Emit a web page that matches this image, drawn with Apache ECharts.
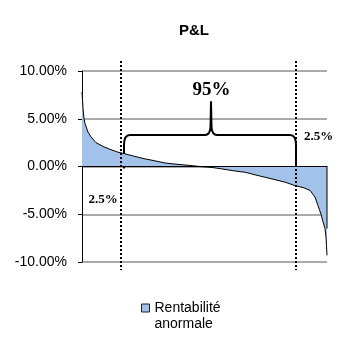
<!DOCTYPE html>
<html>
<head>
<meta charset="utf-8">
<script src="https://cdn.jsdelivr.net/npm/echarts@6/dist/echarts.min.js"></script>
<style>
  html, body { margin: 0; padding: 0; background: #fff; }
  #chart { width: 354px; height: 354px; }
</style>
</head>
<body>
<div id="chart"></div>
<script>
// observations sorted from best to worst (rank) and their abnormal return in %
const rank = [0, 1, 2, 3, 6, 9, 14, 21, 28, 36, 43, 53, 63, 68, 83, 93, 105, 118, 130, 141,
              155, 163, 176, 190, 203, 213, 221, 228, 233, 236, 239, 241, 243, 244, 244.5, 245];
const returns = [7.8, 6.1, 5.0, 4.5, 3.6, 3.1, 2.5, 2.1, 1.8, 1.5, 1.33, 1.05, 0.8, 0.7, 0.37, 0.25, 0.14, 0.0, -0.1, -0.27,
                 -0.5, -0.6, -0.95, -1.3, -1.64, -2.0, -2.2, -2.5, -3.2, -4.1, -5.0, -5.8, -6.5, -7.4, -8.3, -9.3];

const seriesName = 'Rentabilité\nanormale';
const cutLow = 39;    // 2.5% quantile (rank)
const cutHigh = 214;  // 97.5% quantile (rank)

const fill = '#a3c2ea';
const sans = '"Liberation Sans", Arial, sans-serif';
const serif = '"Liberation Serif", "Times New Roman", serif';

const chart = echarts.init(document.getElementById('chart'), null, { renderer: 'canvas' });

chart.setOption({
  animation: false,
  title: {
    text: 'P&L',
    left: 194,
    top: 23,
    padding: 0,
    textAlign: 'center',
    textStyle: { fontFamily: sans, fontSize: 15, fontWeight: 'bold', color: '#000' }
  },
  legend: {
    left: 141,
    top: 300,
    padding: 0,
    itemWidth: 8,
    itemHeight: 24,
    // square sits at the top of a taller box so it lines up with the first text line
    icon: 'path://M0,0h8v8h-8z M0,24 L0,24',
    itemStyle: { borderColor: '#222', borderWidth: 1 },
    textStyle: { fontFamily: sans, fontSize: 14, color: '#000', lineHeight: 16 },
    data: [seriesName]
  },
  grid: { left: 82, right: 27, top: 71, bottom: 92 },
  xAxis: {
    type: 'value',
    min: 0,
    max: 245,
    z: 5,
    axisLine: { show: true, onZero: true, lineStyle: { color: '#000', width: 1 } },
    axisTick: { show: false },
    axisLabel: { show: false },
    splitLine: { show: false }
  },
  yAxis: {
    type: 'value',
    min: -10,
    max: 10,
    interval: 5,
    axisLine: { show: true, lineStyle: { color: '#000', width: 1 } },
    axisTick: { show: true, inside: false, length: 4, lineStyle: { color: '#000' } },
    axisLabel: {
      margin: 15,
      fontFamily: sans,
      fontSize: 14,
      color: '#000',
      formatter: v => v.toFixed(2) + '%'
    },
    splitLine: { show: true, lineStyle: { color: '#8e8e8e', width: 1.5 } }
  },
  series: [{
    name: seriesName,
    type: 'line',
    data: rank.map((r, i) => [r, returns[i]]),
    showSymbol: false,
    symbol: 'none',
    itemStyle: { color: fill },
    lineStyle: { color: '#000', width: 1 },
    areaStyle: { color: fill, opacity: 1, origin: 0 },
    z: 2
  }]
});

// annotations placed from data coordinates
const px = (x, y) => chart.convertToPixel({ gridIndex: 0 }, [x, y]);
const lineTop = px(0, 10)[1] - 10;
const lineBottom = px(0, -10)[1] + 8;
const xl = px(cutLow, 0)[0];
const xh = px(cutHigh, 0)[0];

const bl = px(42, 0)[0], br = px(cutHigh, 0)[0];
const yb = px(0, 0)[1] + 2;
const yh = px(0, 3.3)[1];
const yPeak = px(0, 6.8)[1];
const xm = px(129, 0)[0];
const rad = 6;
const braceStyle = { fill: null, stroke: '#000', lineWidth: 2 };
const seg = (x1, y1, x2, y2) => ({ type: 'line', shape: { x1, y1, x2, y2 }, style: braceStyle });
const curve = (x1, y1, cx, cy, x2, y2) =>
  ({ type: 'bezierCurve', shape: { x1, y1, cpx1: cx, cpy1: cy, x2, y2 }, style: braceStyle });

const brace = {
  type: 'group',
  z: 21,
  children: [
    seg(bl, yb, bl, yh + rad + 4),
    curve(bl, yh + rad + 4, bl, yh, bl + rad, yh),
    seg(bl + rad, yh, xm - 6, yh),
    curve(xm - 6, yh, xm - 1, yh, xm - 0.5, yh - 8),
    seg(xm - 0.5, yh - 8, xm, yPeak),
    seg(xm, yPeak, xm + 0.5, yh - 8),
    curve(xm + 0.5, yh - 8, xm + 1, yh, xm + 6, yh),
    seg(xm + 6, yh, br - rad, yh),
    curve(br - rad, yh, br, yh, br, yh + rad + 4),
    seg(br, yh + rad + 4, br, yb)
  ]
};

const last = rank.length - 1;
const edgeTop = px(rank[last], 0);
const edgeBot = px(rank[last], returns[last - 3]);

const t95 = px(129.5, 8.0);
const tR = px(236.5, 3.1);
const tL = px(21, -3.5);

chart.setOption({
  graphic: [
    { type: 'line', z: 20, shape: { x1: xl, y1: lineTop, x2: xl, y2: lineBottom },
      style: { stroke: '#000', lineWidth: 2, lineDash: [2, 2] } },
    { type: 'line', z: 20, shape: { x1: xh, y1: lineTop, x2: xh, y2: lineBottom },
      style: { stroke: '#000', lineWidth: 2, lineDash: [2, 2] } },
    { type: 'line', z: 19, shape: { x1: edgeTop[0], y1: edgeTop[1], x2: edgeBot[0], y2: edgeBot[1] },
      style: { stroke: '#000', lineWidth: 1 } },
    brace,
    { type: 'text', z: 22, x: t95[0], y: t95[1],
      style: { text: '95%', font: 'bold 19px ' + serif, fill: '#000', align: 'center', verticalAlign: 'middle' } },
    { type: 'text', z: 22, x: tR[0], y: tR[1],
      style: { text: '2.5%', font: 'bold 13px ' + serif, fill: '#000', align: 'center', verticalAlign: 'middle' } },
    { type: 'text', z: 22, x: tL[0], y: tL[1],
      style: { text: '2.5%', font: 'bold 13px ' + serif, fill: '#000', align: 'center', verticalAlign: 'middle' } }
  ]
});
</script>
</body>
</html>
